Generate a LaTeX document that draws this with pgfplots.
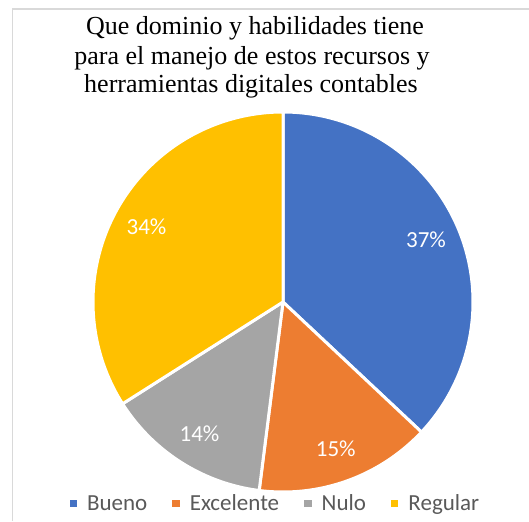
\documentclass[border=0pt]{standalone}
\usepackage{pgfplots}
\pgfplotsset{compat=1.18}
\usepackage{pgfplotstable}
\usepackage{fontspec}
\setmainfont{Carlito}
\newfontfamily\titlefont{Liberation Serif}
\definecolor{cBueno}{HTML}{4472C4}
\definecolor{cExc}{HTML}{ED7D31}
\definecolor{cNulo}{HTML}{A5A5A5}
\definecolor{cReg}{HTML}{FFC000}
\definecolor{legGray}{HTML}{595959}
\definecolor{borderGray}{HTML}{D9D9D9}
\newcommand\labfont{\fontsize{23}{27}\selectfont}
\pgfplotstableread[col sep=comma]{
label,value,color
Bueno,37,cBueno
Excelente,15,cExc
Nulo,14,cNulo
Regular,34,cReg
}\piedata
\begin{document}
\begin{tikzpicture}[x=1pt,y=1pt]
\useasboundingbox (0,0) rectangle (529,521);
\draw[color=borderGray, line width=1.5pt] (12.5,0) -- (12.5,512) -- (529,512);
\node[anchor=base, font=\fontsize{26}{30}\titlefont] at (255,486) {Que dominio y habilidades tiene};
\node[anchor=base, font=\fontsize{26}{30}\titlefont] at (252,456) {para el manejo de estos recursos y};
\node[anchor=base, font=\fontsize{26}{30}\titlefont] at (251,428) {herramientas digitales contables};
\begin{axis}[
  x=190pt, y=190pt,
  xmin=-1, xmax=1, ymin=-1, ymax=1,
  hide axis, clip=false,
  at={(283pt,219pt)}, anchor=origin,
  legend columns=4,
  legend style={draw=none, fill=none, at={(axis cs:-0.04,-1.06)}, anchor=center,
    font=\labfont, text=legGray,
    /tikz/every even column/.append style={column sep=23pt}},
  legend image code/.code={\fill[#1, draw=none] (0pt,-3.75pt) rectangle (7.5pt,3.75pt); \path (14pt,0pt);},
]
\pgfmathsetmacro\cum{0}
\pgfplotsforeachungrouped \i in {0,...,3}{
  \pgfplotstablegetelem{\i}{value}\of\piedata \let\val\pgfplotsretval
  \pgfplotstablegetelem{\i}{color}\of\piedata \let\col\pgfplotsretval
  \pgfplotstablegetelem{\i}{label}\of\piedata \let\lab\pgfplotsretval
  \pgfmathsetmacro\aS{90-3.6*\cum}
  \pgfmathsetmacro\aE{90-3.6*(\cum+\val)}
  \pgfmathsetmacro\aM{(\aS+\aE)/2}
  \pgfmathsetmacro\lx{0.82*cos(\aM)}
  \pgfmathsetmacro\ly{0.82*sin(\aM)}
  \edef\temp{%
    \noexpand\addplot[fill=\col, draw=white, line width=3pt, line join=round,
      domain=\aE:\aS, samples=120] ({cos(x)},{sin(x)}) -- (axis cs:0,0) -- cycle;
    \noexpand\addlegendentry{\lab}
    \noexpand\node[text=white, font=\noexpand\labfont] at (axis cs:\lx,\ly) {\val\noexpand\%};
  }
  \temp
  \pgfmathsetmacro\cum{\cum+\val}
}
\end{axis}
\end{tikzpicture}
\end{document}
